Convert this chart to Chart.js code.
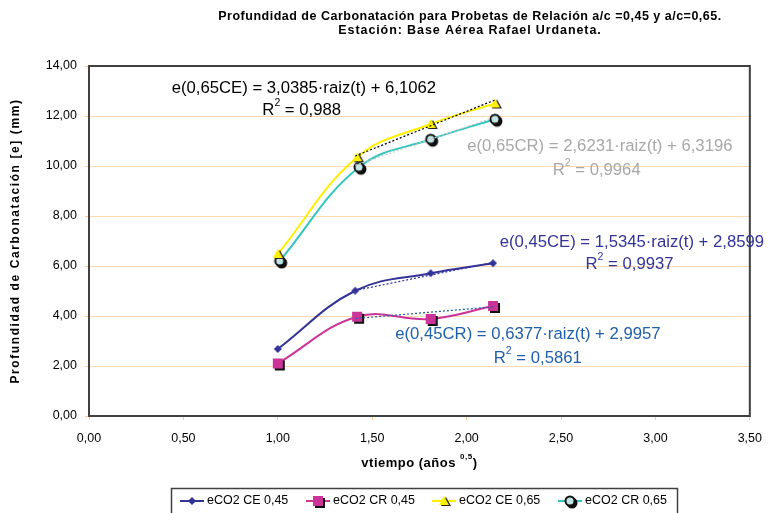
<!DOCTYPE html>
<html><head><meta charset="utf-8">
<script src="https://cdn.jsdelivr.net/npm/chart.js@4"></script>
<style>html,body{margin:0;padding:0;background:#fff}#wrap{width:773px;height:513px;position:relative}</style>
</head><body><div id="wrap"><canvas id="c" width="773" height="513"></canvas></div>
<script>
// ---------- data ----------
const titleLines = ['Profundidad de Carbonatación para Probetas de Relación a/c =0,45 y a/c=0,65.', 'Estación: Base Aérea Rafael Urdaneta.'];
const yAxisTitle = 'Profundidad de Carbonatación [e] (mm)';
const xAxisTitle = 'vtiempo (años ';
const xAxisSup = '0,5';
const seriesNames = ['eCO2 CE 0,45', 'eCO2 CR 0,45', 'eCO2 CE 0,65', 'eCO2 CR 0,65'];

const tCE45 = [1.00, 1.41, 1.81, 2.14];
const eCE45 = [2.68, 5.01, 5.71, 6.11];
const tCR45 = [1.00, 1.42, 1.81, 2.14];
const eCR45 = [2.10, 3.97, 3.88, 4.40];
const tCE65 = [1.00, 1.42, 1.81, 2.15];
const eCE65 = [6.48, 10.35, 11.68, 12.50];
const tCR65 = [1.01, 1.43, 1.81, 2.15];
const eCR65 = [6.20, 9.95, 11.07, 11.87];

const trendT = [1.41, 2.15];
const trendCE45 = [5.02, 6.16];
const trendCR45 = [3.90, 4.37];
const trendCE65 = [10.40, 12.64];
const trendCR65 = [10.03, 11.96];

const eqTexts = ['e(0,65CE) = 3,0385·raiz(t) + 6,1062', 'e(0,65CR) = 2,6231·raiz(t) + 6,3196', 'e(0,45CE) = 1,5345·raiz(t) + 2,8599', 'e(0,45CR) = 0,6377·raiz(t) + 2,9957'];
const r2Texts = ['0,988', '0,9964', '0,9937', '0,5861'];

const yTicksMin = 0, yTicksMax = 14, yStep = 2;
const xTicksMin = 0, xTicksMax = 3.5, xStep = 0.5;

// ---------- styles ----------
const FONT = '"Liberation Sans", Arial, sans-serif';
const cNavy = '#333399', cMag = '#CC3399', cYel = '#FFF000', cTeal = '#33C6BE';
const eqColors = ['#000000', '#A8A8A8', '#333399', '#1F5FAA'];
const eqPos = [[0.438, 13.12], [2.003, 10.80], [2.175, 6.96], [1.622, 3.28]]; // left, middle (data units)
const r2Pos = [[0.918, 12.24], [2.456, 9.84], [2.630, 6.08], [2.144, 2.32]];

function mk(size, draw) { const c = document.createElement('canvas'); c.width = c.height = size; draw(c.getContext('2d'), size / 2); return c; }
const diamond = mk(12, (g, m) => { g.fillStyle = cNavy; g.beginPath(); g.moveTo(m, m - 4); g.lineTo(m + 4, m); g.lineTo(m, m + 4); g.lineTo(m - 4, m); g.closePath(); g.fill(); });
const square = mk(18, (g, m) => { g.fillStyle = '#111'; g.fillRect(m - 5 + 2, m - 5 + 2, 10, 10); g.fillStyle = cMag; g.fillRect(m - 5, m - 5, 10, 10); });
const tri = mk(18, (g, m) => {
  const t = (dx, dy) => { g.beginPath(); g.moveTo(m + dx, m - 5 + dy); g.lineTo(m + 5 + dx, m + 4 + dy); g.lineTo(m - 5 + dx, m + 4 + dy); g.closePath(); };
  g.fillStyle = '#222'; t(2, 1); g.fill(); g.fillStyle = cYel; t(0, 0); g.fill();
});
const circ = mk(18, (g, m) => {
  g.fillStyle = '#111'; g.beginPath(); g.arc(m + 2, m + 2, 5.5, 0, Math.PI * 2); g.fill();
  g.fillStyle = '#BFE6E4'; g.strokeStyle = '#111'; g.lineWidth = 2; g.beginPath(); g.arc(m, m, 4.5, 0, Math.PI * 2); g.fill(); g.stroke();
});
const markers = [diamond, square, tri, circ];
const lineColors = [cNavy, cMag, cYel, cTeal];

const pts = (xs, ys) => xs.map((x, i) => ({ x, y: ys[i] }));
const fmt = v => Number(v).toFixed(2).replace('.', ',');

const mainSets = [[tCE45, eCE45], [tCR45, eCR45], [tCE65, eCE65], [tCR65, eCR65]].map((s, i) => ({
  label: seriesNames[i], data: pts(s[0], s[1]), showLine: true, borderColor: lineColors[i], borderWidth: 2,
  tension: 0.4, pointStyle: markers[i], pointRadius: 5, pointHoverRadius: 5, order: 1, isMain: true
}));
const trendColors = [cNavy, '#1F5FAA', '#000000', '#C8C8C8'];
const trendSets = [trendCE45, trendCR45, trendCE65, trendCR65].map((s, i) => ({
  label: 'trend' + i, data: pts(trendT, s), showLine: true, borderColor: trendColors[i], borderWidth: 1.2,
  borderDash: [2, 2], pointRadius: 0, tension: 0, order: 0
}));

const deco = {
  id: 'deco',
  beforeDatasetsDraw(chart) {
    const { ctx, chartArea: a } = chart;
    ctx.save(); ctx.strokeStyle = '#404040'; ctx.lineWidth = 2;
    ctx.strokeRect(a.left, a.top, a.right - a.left, a.bottom - a.top); ctx.restore();
  },
  afterDraw(chart) {
    const { ctx, scales: { x, y } } = chart;
    ctx.save();
    // title
    ctx.fillStyle = '#000'; ctx.font = 'bold 12.5px ' + FONT; ctx.textAlign = 'center'; ctx.textBaseline = 'middle';
    ctx.letterSpacing = '0.5px';
    ctx.fillText(titleLines[0], 470, 17);
    ctx.letterSpacing = '0.9px';
    ctx.fillText(titleLines[1], 470, 31);
    // y title
    ctx.save(); ctx.translate(16, 241); ctx.rotate(-Math.PI / 2); ctx.letterSpacing = '1.6px'; ctx.font = 'bold 12px ' + FONT;
    ctx.fillText(yAxisTitle, 0, 0); ctx.restore();
    // x title with superscript
    ctx.letterSpacing = '0.5px';
    ctx.font = 'bold 13px ' + FONT; const w1 = ctx.measureText(xAxisTitle).width;
    ctx.font = 'bold 8px ' + FONT; const w2 = ctx.measureText(xAxisSup).width;
    ctx.font = 'bold 13px ' + FONT; const w3 = ctx.measureText(')').width;
    let sx = (x.left + x.right) / 2 - (w1 + w2 + w3) / 2; const ty = 463;
    ctx.textAlign = 'left'; ctx.fillText(xAxisTitle, sx, ty);
    ctx.font = 'bold 8px ' + FONT; ctx.fillText(xAxisSup, sx + w1, ty - 6);
    ctx.font = 'bold 13px ' + FONT; ctx.fillText(')', sx + w1 + w2, ty);
    ctx.letterSpacing = '0px';
    // equations
    eqTexts.forEach((t, i) => {
      ctx.fillStyle = eqColors[i]; ctx.font = '16.7px ' + FONT; ctx.textAlign = 'left';
      ctx.fillText(t, x.getPixelForValue(eqPos[i][0]), y.getPixelForValue(eqPos[i][1]));
      let rx = x.getPixelForValue(r2Pos[i][0]); const ry = y.getPixelForValue(r2Pos[i][1]);
      ctx.fillText('R', rx, ry); rx += ctx.measureText('R').width;
      ctx.font = '10.5px ' + FONT; ctx.fillText('2', rx, ry - 7); rx += ctx.measureText('2').width;
      ctx.font = '16.7px ' + FONT; ctx.fillText(' = ' + r2Texts[i], rx, ry);
    });
    // legend
    ctx.strokeStyle = '#404040'; ctx.lineWidth = 1.5; ctx.strokeRect(171.5, 488.5, 506, 30);
    ctx.font = '12.5px ' + FONT; ctx.fillStyle = '#000'; ctx.textAlign = 'left';
    chart.data.datasets.filter(d => d.isMain).forEach((d, i) => {
      const x0 = 180 + 126 * i, ly = 501;
      ctx.strokeStyle = d.borderColor; ctx.lineWidth = 2; ctx.beginPath(); ctx.moveTo(x0, ly); ctx.lineTo(x0 + 24, ly); ctx.stroke();
      ctx.drawImage(d.pointStyle, x0 + 12 - d.pointStyle.width / 2, ly - d.pointStyle.height / 2);
      ctx.fillStyle = '#000'; ctx.fillText(d.label, x0 + 27, ly);
    });
    ctx.restore();
  }
};

new Chart(document.getElementById('c'), {
  type: 'scatter',
  data: { datasets: [...mainSets, ...trendSets] },
  options: {
    responsive: false, animation: false, devicePixelRatio: 1,
    layout: { padding: { top: 66, right: 13, left: 0, bottom: 0 } },
    plugins: { legend: { display: false }, title: { display: false }, tooltip: { enabled: false } },
    scales: {
      x: {
        type: 'linear', min: xTicksMin, max: xTicksMax,
        afterFit: s => { s.height = 97; },
        ticks: { stepSize: xStep, callback: fmt, color: '#000', font: { family: FONT, size: 12.5 }, padding: 11, maxRotation: 0 },
        grid: { drawOnChartArea: false, drawTicks: true, tickLength: 4, tickColor: '#FFC890', color: '#FFC890' },
        border: { color: '#404040', width: 2 }
      },
      y: {
        type: 'linear', min: yTicksMin, max: yTicksMax,
        afterFit: s => { s.width = 89; },
        ticks: { stepSize: yStep, callback: fmt, color: '#000', font: { family: FONT, size: 12.5 }, padding: 8 },
        grid: { color: '#FFDAB0', lineWidth: 1, tickLength: 4, tickColor: '#FFC890' },
        border: { color: '#404040', width: 2 }
      }
    }
  },
  plugins: [deco]
});
</script></body></html>
